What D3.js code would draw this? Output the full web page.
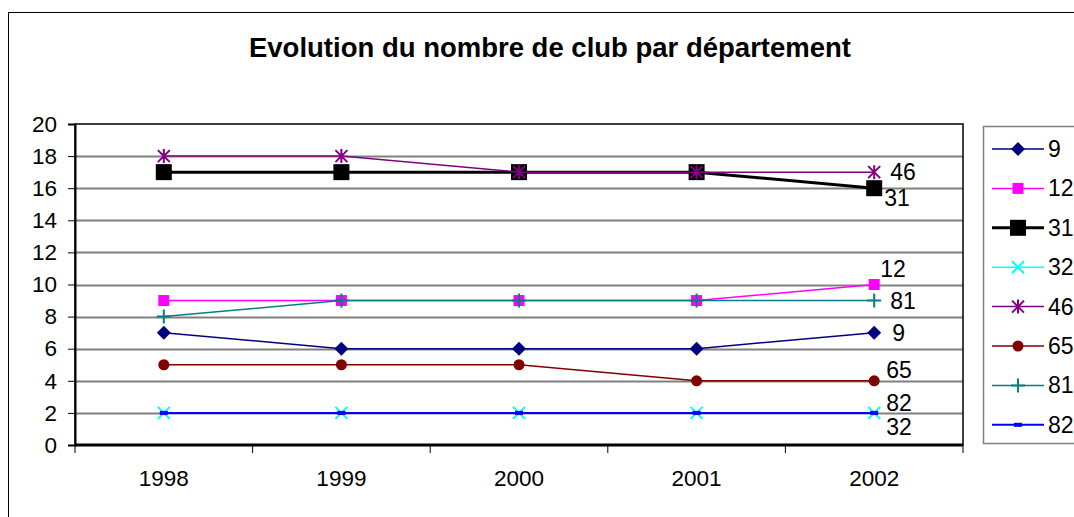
<!DOCTYPE html>
<meta charset="utf-8">
<script src="https://cdn.jsdelivr.net/npm/d3@7"></script>
<style>
body { margin: 0; background: #fff; }
text { font-family: "Liberation Sans", Arial, sans-serif; }
</style>
<body>
<script>

var years = ["1998", "1999", "2000", "2001", "2002"];
var depts = ["9", "12", "31", "32", "46", "65", "81", "82"];
var v9  = [7, 6, 6, 6, 7];
var v12 = [9, 9, 9, 9, 10];
var v31 = [17, 17, 17, 17, 16];
var v32 = [2, 2, 2, 2, 2];
var v46 = [18, 18, 17, 17, 17];
var v65 = [5, 5, 5, 4, 4];
var v81 = [8, 9, 9, 9, 9];
var v82 = [2, 2, 2, 2, 2];
var yTicks = [0, 2, 4, 6, 8, 10, 12, 14, 16, 18, 20];

var values = [v9, v12, v31, v32, v46, v65, v81, v82];
var colors = ["#000080", "#ff00ff", "#000000", "#00ffff", "#800080", "#800000", "#008080", "#0000ff"];
var markers = ["diamond", "square", "bigsquare", "x", "star", "circle", "plus", "dash"];
var widths = [1.5, 1.5, 3, 1.5, 1.5, 1.5, 1.5, 2];
// end label offsets for the last point
var labelDx = [18, 6, 10, 12, 16, 12, 16, 12];
var labelDy = [8, -8, 18, 22, 8, -3, 8, -2];

var W = 1074, H = 517;
var svg = d3.select("body").append("svg").attr("width", W).attr("height", H);

svg.append("rect").attr("x", 8.5).attr("y", 12.5).attr("width", W).attr("height", H)
    .attr("fill", "#fff").attr("stroke", "#000").attr("stroke-width", 1);

svg.append("text").attr("x", 550).attr("y", 57).attr("text-anchor", "middle")
    .attr("font-size", 27.5).attr("font-weight", "bold").text("Evolution du nombre de club par département");

var pLeft = 75, pRight = 963, pTop = 124, pBottom = 445;
var x = d3.scaleBand().domain(years).range([pLeft, pRight]);
var y = d3.scaleLinear().domain([0, 20]).range([pBottom, pTop]);

var plot = svg.append("g");
plot.selectAll(".grid").data(yTicks.slice(1, -1)).enter().append("line")
    .attr("x1", pLeft).attr("x2", pRight)
    .attr("y1", function(d) { return Math.round(y(d)) + 0.5; })
    .attr("y2", function(d) { return Math.round(y(d)) + 0.5; })
    .attr("stroke", "#808080").attr("stroke-width", 2);

plot.append("rect").attr("x", pLeft).attr("y", pTop).attr("width", pRight - pLeft).attr("height", pBottom - pTop)
    .attr("fill", "none").attr("stroke", "#000").attr("stroke-width", 1.5);

var yAxis = d3.axisLeft(y).tickValues(yTicks).tickSize(7).tickPadding(11);
svg.append("g").attr("transform", "translate(" + pLeft + ",0)").call(yAxis)
    .call(function(g) {
      g.attr("font-size", null).attr("font-family", null);
      g.select(".domain").attr("stroke-width", 2);
      g.selectAll("text").attr("font-size", 22.5).attr("fill", "#000");
    });

var xAxis = d3.axisBottom(x).tickSize(0).tickPadding(25);
var xg = svg.append("g").attr("transform", "translate(0," + pBottom + ")").call(xAxis);
xg.attr("font-size", null).attr("font-family", null);
xg.select(".domain").attr("stroke-width", 3).attr("d", "M" + pLeft + ",0H" + pRight);
xg.selectAll("text").attr("font-size", 22.5).attr("fill", "#000");
xg.selectAll(".bt").data(d3.range(years.length + 1)).enter().append("line")
    .attr("x1", function(i) { return pLeft + i * x.step(); })
    .attr("x2", function(i) { return pLeft + i * x.step(); })
    .attr("y1", 0).attr("y2", 8).attr("stroke", "#000").attr("stroke-width", 1);

function drawMarker(g, type, color) {
  if (type === "diamond") {
    g.append("path").attr("d", "M0,-7L7,0L0,7L-7,0Z").attr("fill", color);
  } else if (type === "square") {
    g.append("rect").attr("x", -5.5).attr("y", -5.5).attr("width", 11).attr("height", 11).attr("fill", color);
  } else if (type === "bigsquare") {
    g.append("rect").attr("x", -8).attr("y", -8).attr("width", 16).attr("height", 16).attr("fill", color);
  } else if (type === "x") {
    g.append("path").attr("d", "M-6,-6L6,6M-6,6L6,-6").attr("stroke", color).attr("stroke-width", 2);
  } else if (type === "star") {
    g.append("path").attr("d", "M-6,-6L6,6M-6,6L6,-6M0,-7V7").attr("stroke", color).attr("stroke-width", 2);
  } else if (type === "circle") {
    g.append("circle").attr("r", 5.5).attr("fill", color);
  } else if (type === "plus") {
    g.append("path").attr("d", "M-7,0H7M0,-7V7").attr("stroke", color).attr("stroke-width", 2);
  } else if (type === "dash") {
    g.append("rect").attr("x", -4).attr("y", -2).attr("width", 8).attr("height", 4).attr("fill", color);
  }
}

var line = d3.line()
    .x(function(d, i) { return x(years[i]) + x.bandwidth() / 2; })
    .y(function(d) { return y(d); });

values.forEach(function(vals, s) {
  var g = svg.append("g");
  g.append("path").datum(vals).attr("d", line).attr("fill", "none")
      .attr("stroke", colors[s]).attr("stroke-width", widths[s]);
  vals.forEach(function(v, i) {
    var m = g.append("g").attr("transform",
        "translate(" + (x(years[i]) + x.bandwidth() / 2) + "," + y(v) + ")");
    drawMarker(m, markers[s], colors[s]);
  });
  var last = vals.length - 1;
  g.append("text")
      .attr("x", x(years[last]) + x.bandwidth() / 2 + labelDx[s])
      .attr("y", y(vals[last]) + labelDy[s])
      .attr("font-size", 23).text(depts[s]);
});

// legend
var lg = svg.append("g");
lg.append("rect").attr("x", 983.5).attr("y", 126.5).attr("width", 120).attr("height", 317)
    .attr("fill", "#fff").attr("stroke", "#808080").attr("stroke-width", 1.5);
depts.forEach(function(d, s) {
  var ly = 149 + s * 39.4;
  var item = lg.append("g").attr("transform", "translate(0," + ly + ")");
  item.append("line").attr("x1", 992).attr("x2", 1044).attr("y1", 0).attr("y2", 0)
      .attr("stroke", colors[s]).attr("stroke-width", widths[s]);
  var m = item.append("g").attr("transform", "translate(1018,0)");
  drawMarker(m, markers[s], colors[s]);
  item.append("text").attr("x", 1048).attr("y", 8).attr("font-size", 23).text(d);
});

</script>
</body>
